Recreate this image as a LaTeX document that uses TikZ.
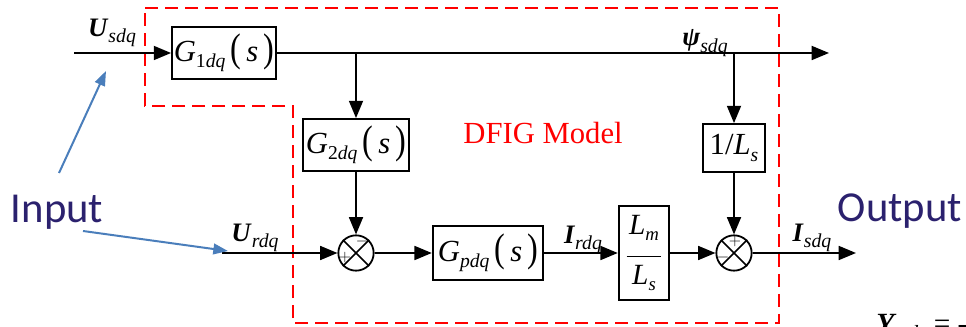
\documentclass[tikz,border=0pt]{standalone}
\usepackage{fontspec}
\usepackage{graphicx}
\setmainfont{Liberation Serif}
\newfontfamily\calib{Carlito}
\usetikzlibrary{arrows.meta}
\definecolor{navy}{RGB}{43,33,110}
\definecolor{steel}{RGB}{74,126,187}
\definecolor{dred}{RGB}{255,0,0}
\newcommand{\bi}[1]{\textbf{\textit{#1}}}
\newcommand{\sbs}[1]{\raisebox{-0.45ex}{\scalebox{0.64}{\textit{#1}}}}
\newcommand{\lsb}[1]{\raisebox{-0.55ex}{\scalebox{0.74}{\textit{#1}}}}
\newcommand{\sbn}[2]{\raisebox{-0.45ex}{\scalebox{0.64}{#1\textit{#2}}}}
\newcommand{\pars}[1]{\scalebox{1.05}[1.3]{(}\,\textit{#1}\,\scalebox{1.05}[1.3]{)}}
\tikzset{
  blk/.style={draw, line width=1.35pt, inner sep=0pt, align=center,
    font=\fontsize{23}{26}\selectfont},
  sumj/.style={draw, circle, line width=1.35pt, minimum size=26.5pt, inner sep=0pt},
  sig/.style={-{Triangle[length=13pt,width=10.5pt]}, line width=1.35pt},
  lbl/.style={inner sep=0pt, font=\fontsize{20}{22}\selectfont},
  sgn/.style={inner sep=0pt, font=\fontsize{12}{12}\selectfont},
  bluearr/.style={-{Triangle[length=11pt,width=8pt]}, line width=1.5pt, draw=steel},
  bigtxt/.style={inner sep=0pt, text=navy, font=\calib\fontsize{32}{34}\selectfont},
}
\begin{document}
\begin{tikzpicture}[x=0.75pt,y=-0.75pt]
\useasboundingbox (0,0) rectangle (966,327);
% red dashed boundary
\draw[dred, line width=1.7pt, dash pattern=on 10pt off 5pt]
  (145,8) -- (779,8) -- (779,323) -- (293,323) -- (293,106) -- (145,106) -- cycle;
\node[text=dred, inner sep=0pt, font=\fontsize{23}{25}\selectfont] (dfig) at (543,133) {DFIG Model};

% blocks
\node[blk, minimum width=78pt, minimum height=39pt] (g1) at (224,53) {\textit{G}\sbn{1}{dq}\,\pars{s}};
\node[blk, minimum width=79.5pt, minimum height=39pt] (g2) at (356,145) {\textit{G}\sbn{2}{dq}\,\pars{s}};
\node[blk, minimum width=46.5pt, minimum height=36pt] (ls) at (734,148) {1/\textit{L}\sbs{s}};
\node[blk, minimum width=83pt, minimum height=40.5pt] (gp) at (488,253) {\textit{G}\sbs{pdq}\,\pars{s}};
\node[blk, minimum width=38pt, minimum height=71pt, font=\fontsize{22}{24}\selectfont] (lm) at (644,253)
  {\textit{L}\sbs{m}\\[-7pt]\rule{26pt}{0.9pt}\\[-3pt]\textit{L}\sbs{s}};

% summing junctions
\node[sumj] (s1) at (356,253) {};
\draw[line width=1.1pt] (s1.north east) -- (s1.south west) (s1.north west) -- (s1.south east);
\node[sumj] (s2) at (734,253) {};
\draw[line width=1.1pt] (s2.north east) -- (s2.south west) (s2.north west) -- (s2.south east);
\node[sgn] (s1m) at (362,242) {$-$};
\node[sgn] (s1p) at (345,258) {$+$};
\node[sgn] (s2p) at (735,242) {$+$};
\node[sgn] (s2m) at (723,258) {$-$};

% signal lines
\coordinate (in1) at (74,53);
\coordinate (out1) at (829,53);
\coordinate (b1) at (356,53);
\coordinate (b2) at (734,53);
\coordinate (in2) at (222,253);
\coordinate (out2) at (856,253);
\draw[sig] (in1) -- (g1);
\draw[sig] (g1) -- (out1);
\draw[sig] (b1) -- (g2);
\draw[sig] (b2) -- (ls);
\draw[sig] (g2) -- (s1);
\draw[sig] (ls) -- (s2);
\draw[sig] (in2) -- (s1);
\draw[sig] (s1) -- (gp);
\draw[sig] (gp) -- (lm);
\draw[sig] (lm) -- (s2);
\draw[sig] (s2) -- (out2);

% signal labels
\node[lbl] (usdq) at (112,33) {\bi{U}\lsb{sdq}};
\node[lbl] (psi) at (705,43) {\bi{ψ}\lsb{sdq}};
\node[lbl] (urdq) at (255,238) {\bi{U}\lsb{rdq}};
\node[lbl] (irdq) at (583,240) {\bi{I}\lsb{rdq}};
\node[lbl] (isdq) at (812,238) {\bi{I}\lsb{sdq}};

% input / output annotations
\node[bigtxt] (inp) at (57,212) {Input};
\node[bigtxt] (outp) at (900,211) {Output};
\coordinate (a1s) at (59,173);
\coordinate (a1e) at (106,71);
\coordinate (a2s) at (83,231);
\coordinate (a2e) at (228,251);
\draw[bluearr] (a1s) -- (a1e);
\draw[bluearr] (a2s) -- (a2e);

% partially visible formula
\node[inner sep=0pt, anchor=base west, font=\fontsize{22}{24}\selectfont] (yodq) at (876,333) {\bi{Y}\lsb{odq}\,= -};
\end{tikzpicture}
\end{document}
